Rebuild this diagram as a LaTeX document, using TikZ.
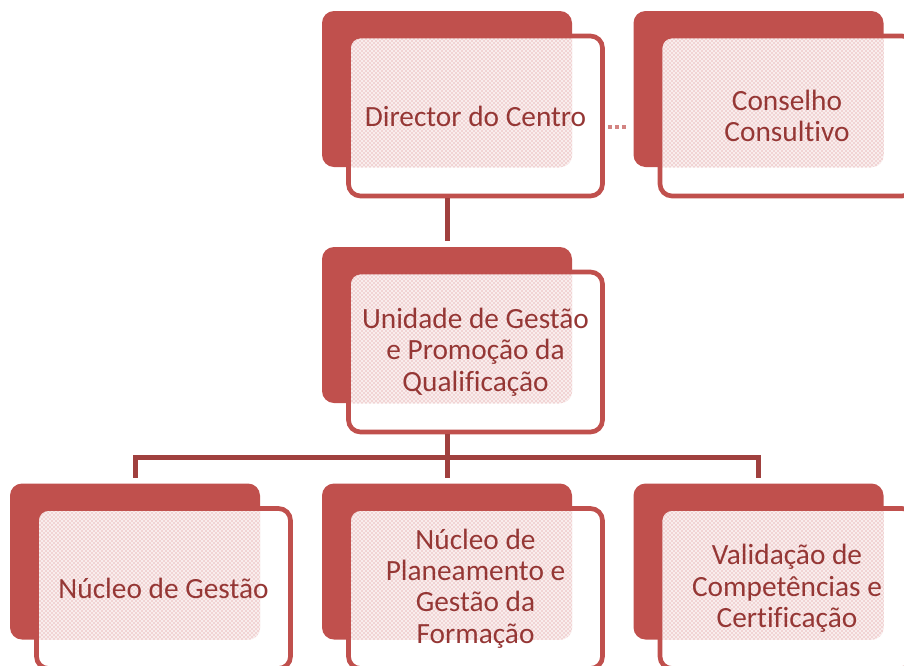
\documentclass[tikz,border=0pt]{standalone}
\usepackage{fontspec}
\setmainfont{Carlito}[Ligatures={NoCommon}]
\usetikzlibrary{positioning, calc, patterns}

\definecolor{boxred}{HTML}{C0504D}
\definecolor{linkred}{HTML}{A0403E}
\definecolor{textred}{HTML}{953735}
\definecolor{dotred}{HTML}{D98482}

\tikzset{
  backbox/.style={fill=boxred, rounded corners=9pt, minimum width=187.5pt, minimum height=117pt, inner sep=0pt},
  frontbox/.style={draw=boxred, line width=3.5pt, fill=white, rounded corners=9pt,
    minimum width=190.5pt, minimum height=120pt, inner sep=0pt, text=textred, align=center,
    font=\fontsize{22}{23.6}\selectfont,
    path picture={\fill[boxred!10, rounded corners=9pt] (#1.south west) rectangle (#1.north east);
      \fill[pattern=crosshatch dots, pattern color=dotred, rounded corners=9pt] (#1.south west) rectangle (#1.north east);}},
  link/.style={draw=linkred, line width=3.75pt},
  dotlink/.style={draw=boxred!70, line width=3pt, dash pattern=on 3pt off 2.25pt}
}

\begin{document}
\begin{tikzpicture}[x=0.75pt, y=-0.75pt]

\path[use as bounding box] (0,0) rectangle (904,665);
\clip (0,0) rectangle (904,665);

% back boxes
\node[backbox] (dirB) at (447,89) {};
\node[backbox] (conB) at (758.5,89) {};
\node[backbox] (uniB) at (447,325) {};
\node[backbox] (nucB) at (135,561.5) {};
\node[backbox] (forB) at (447,561.5) {};
\node[backbox] (valB) at (758.5,561.5) {};

% front boxes
\node[frontbox=dirB] (dir) at ($(dirB)+(28.5,27)$) {Director do Centro};
\node[frontbox=conB] (con) at ($(conB)+(28.5,27)$) {Conselho\\Consultivo};
\node[frontbox=uniB] (uni) at ($(uniB)+(28.5,27)$) {Unidade de Gestão\\e Promoção da\\Qualificação};
\node[frontbox=nucB] (nuc) at ($(nucB)+(28.5,27)$) {Núcleo de Gestão};
\node[frontbox=forB] (for) at ($(forB)+(28.5,27)$) {Núcleo de\\Planeamento e\\Gestão da\\Formação};
\node[frontbox=valB] (val) at ($(valB)+(28.5,27)$) {Validação de\\Competências e\\Certificação};

% connectors
\coordinate (bus) at (447,457);
\draw[link, shorten >=4pt] (dirB.center |- dir.south) -- (uniB.north);
\draw[link] (uniB.center |- uni.south) -- (bus);
\draw[link, shorten <=4pt, shorten >=4pt] (nucB.north) |- (bus) -| (valB.north);
\draw[link, shorten >=4pt] (bus) -- (forB.north);
\draw[dotlink, shorten <=2.25pt, shorten >=5.25pt] ([yshift=-8.6pt]dir.east) -- ([yshift=-8.6pt]dir.east -| conB.west);

\end{tikzpicture}
\end{document}
